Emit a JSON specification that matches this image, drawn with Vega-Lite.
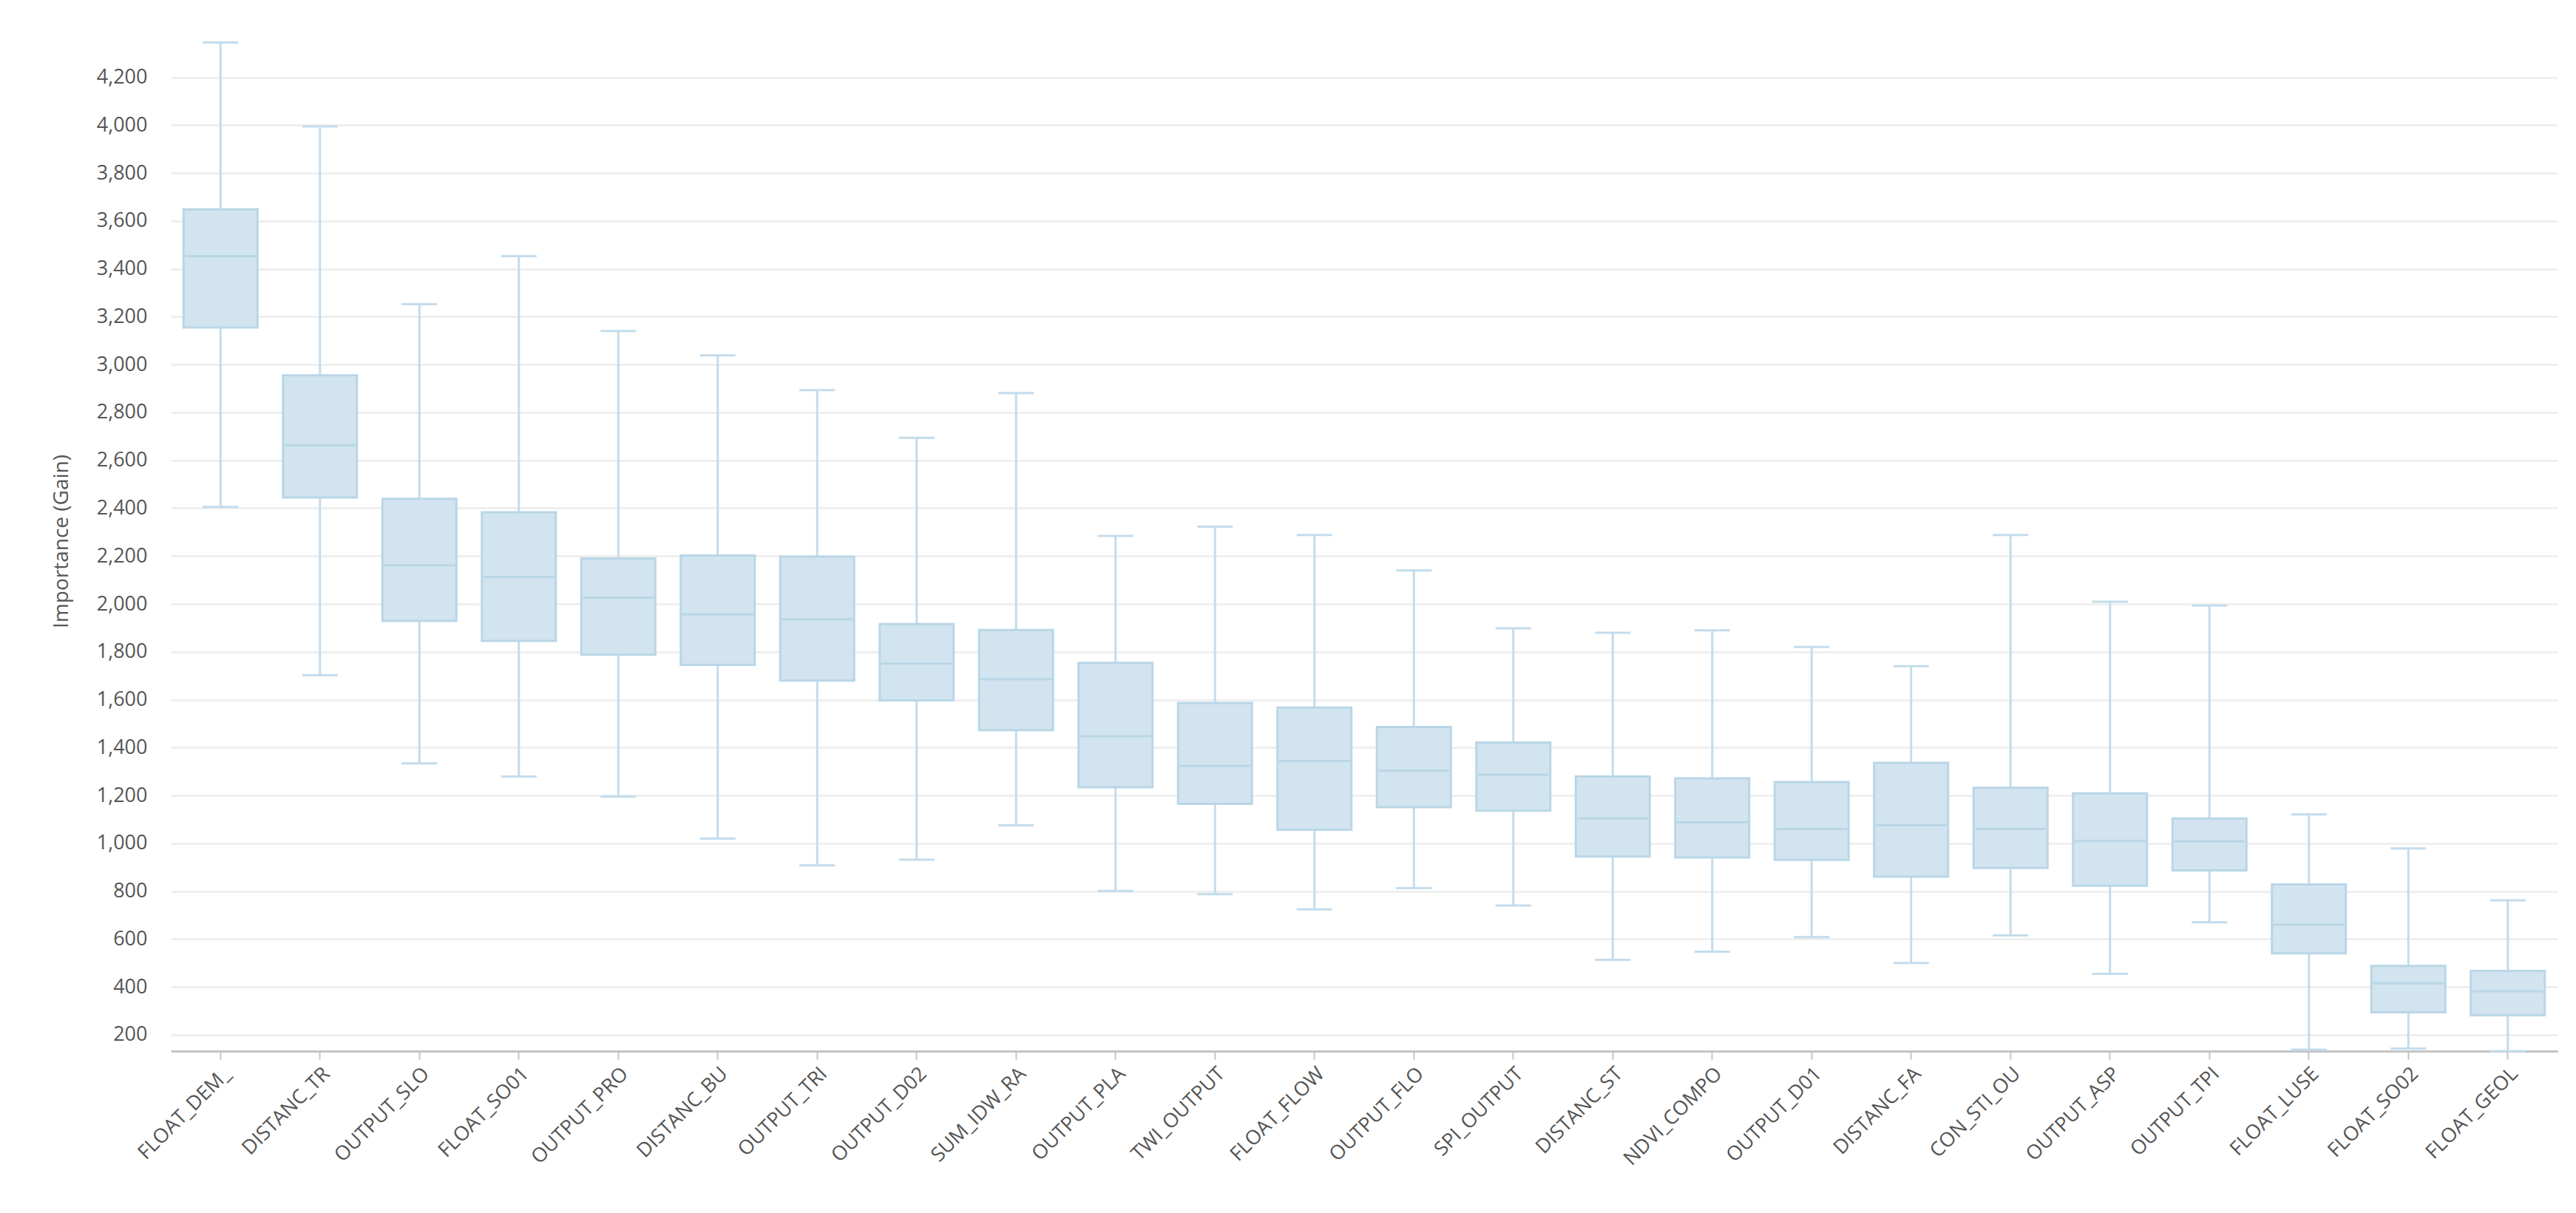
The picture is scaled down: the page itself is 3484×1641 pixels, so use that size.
{
  "$schema": "https://vega.github.io/schema/vega-lite/v6.json",
  "autosize": "none",
  "width": 3228,
  "height": 1380,
  "padding": {"left": 231, "top": 42, "right": 25, "bottom": 219},
  "background": "white",
  "config": {
    "view": {"stroke": null},
    "font": "Open Sans"
  },
  "data": {
    "values": [
      {"feature": "FLOAT_DEM_", "min": 2405, "q1": 3155, "median": 3453, "q3": 3648, "max": 4345},
      {"feature": "DISTANC_TR", "min": 1702, "q1": 2445, "median": 2662, "q3": 2955, "max": 3995},
      {"feature": "OUTPUT_SLO", "min": 1334, "q1": 1929, "median": 2161, "q3": 2439, "max": 3252},
      {"feature": "FLOAT_SO01", "min": 1279, "q1": 1846, "median": 2113, "q3": 2383, "max": 3453},
      {"feature": "OUTPUT_PRO", "min": 1195, "q1": 1788, "median": 2026, "q3": 2190, "max": 3140},
      {"feature": "DISTANC_BU", "min": 1020, "q1": 1745, "median": 1957, "q3": 2202, "max": 3038},
      {"feature": "OUTPUT_TRI", "min": 908, "q1": 1680, "median": 1936, "q3": 2198, "max": 2893},
      {"feature": "OUTPUT_D02", "min": 932, "q1": 1597, "median": 1751, "q3": 1916, "max": 2694},
      {"feature": "SUM_IDW_RA", "min": 1075, "q1": 1473, "median": 1685, "q3": 1891, "max": 2881},
      {"feature": "OUTPUT_PLA", "min": 801, "q1": 1234, "median": 1447, "q3": 1754, "max": 2284},
      {"feature": "TWI_OUTPUT", "min": 787, "q1": 1165, "median": 1323, "q3": 1586, "max": 2323},
      {"feature": "FLOAT_FLOW", "min": 724, "q1": 1057, "median": 1344, "q3": 1567, "max": 2288},
      {"feature": "OUTPUT_FLO", "min": 813, "q1": 1151, "median": 1303, "q3": 1486, "max": 2140},
      {"feature": "SPI_OUTPUT", "min": 740, "q1": 1136, "median": 1287, "q3": 1421, "max": 1898},
      {"feature": "DISTANC_ST", "min": 513, "q1": 945, "median": 1104, "q3": 1279, "max": 1880},
      {"feature": "NDVI_COMPO", "min": 547, "q1": 941, "median": 1088, "q3": 1271, "max": 1890},
      {"feature": "OUTPUT_D01", "min": 608, "q1": 931, "median": 1060, "q3": 1256, "max": 1820},
      {"feature": "DISTANC_FA", "min": 500, "q1": 861, "median": 1076, "q3": 1336, "max": 1740},
      {"feature": "CON_STI_OU", "min": 615, "q1": 897, "median": 1060, "q3": 1232, "max": 2288},
      {"feature": "OUTPUT_ASP", "min": 455, "q1": 823, "median": 1010, "q3": 1209, "max": 2009},
      {"feature": "OUTPUT_TPI", "min": 670, "q1": 887, "median": 1008, "q3": 1104, "max": 1993},
      {"feature": "FLOAT_LUSE", "min": 138, "q1": 540, "median": 660, "q3": 828, "max": 1121},
      {"feature": "FLOAT_SO02", "min": 143, "q1": 294, "median": 415, "q3": 488, "max": 979},
      {"feature": "FLOAT_GEOL", "min": 132, "q1": 282, "median": 382, "q3": 467, "max": 762}
    ]
  },
  "encoding": {
    "x": {
      "field": "feature",
      "type": "nominal",
      "sort": null,
      "scale": {"paddingInner": 0, "paddingOuter": 0},
      "axis": {
        "title": null,
        "labelAngle": -45,
        "labelFontSize": 27,
        "labelColor": "#555555",
        "labelPadding": 6,
        "ticks": true,
        "tickSize": 11,
        "tickWidth": 2,
        "tickColor": "#c4c4c4",
        "domainColor": "#c4c4c4",
        "domainWidth": 3,
        "grid": false
      }
    }
  },
  "layer": [
    {
      "mark": {"type": "rule", "color": "#c3dcec", "strokeWidth": 3},
      "encoding": {
        "y": {
          "field": "min",
          "type": "quantitative",
          "scale": {"domain": [132, 4393], "nice": false, "zero": false},
          "axis": {
            "title": "Importance (Gain)",
            "titleFontSize": 28,
            "titleFontWeight": "normal",
            "titleColor": "#555555",
            "titlePadding": 33,
            "values": [200, 400, 600, 800, 1000, 1200, 1400, 1600, 1800, 2000, 2200, 2400, 2600, 2800, 3000, 3200, 3400, 3600, 3800, 4000, 4200],
            "format": ",d",
            "labelFontSize": 27,
            "labelColor": "#555555",
            "labelPadding": 32,
            "ticks": false,
            "domain": false,
            "grid": true,
            "gridColor": "#efefef",
            "gridWidth": 3
          }
        },
        "y2": {"field": "max"}
      }
    },
    {
      "mark": {"type": "bar", "width": 100, "fill": "#d2e4ef", "stroke": "#b9d6e7", "strokeWidth": 3},
      "encoding": {
        "y": {"field": "q1", "type": "quantitative"},
        "y2": {"field": "q3"}
      }
    },
    {
      "mark": {"type": "tick", "color": "#b9d6e7", "size": 96, "thickness": 3, "opacity": 1},
      "encoding": {
        "y": {"field": "median", "type": "quantitative"}
      }
    },
    {
      "mark": {"type": "tick", "color": "#c3dcec", "size": 48, "thickness": 3, "opacity": 1},
      "encoding": {
        "y": {"field": "max", "type": "quantitative"}
      }
    },
    {
      "mark": {"type": "tick", "color": "#c3dcec", "size": 48, "thickness": 3, "opacity": 1},
      "encoding": {
        "y": {"field": "min", "type": "quantitative"}
      }
    }
  ]
}
